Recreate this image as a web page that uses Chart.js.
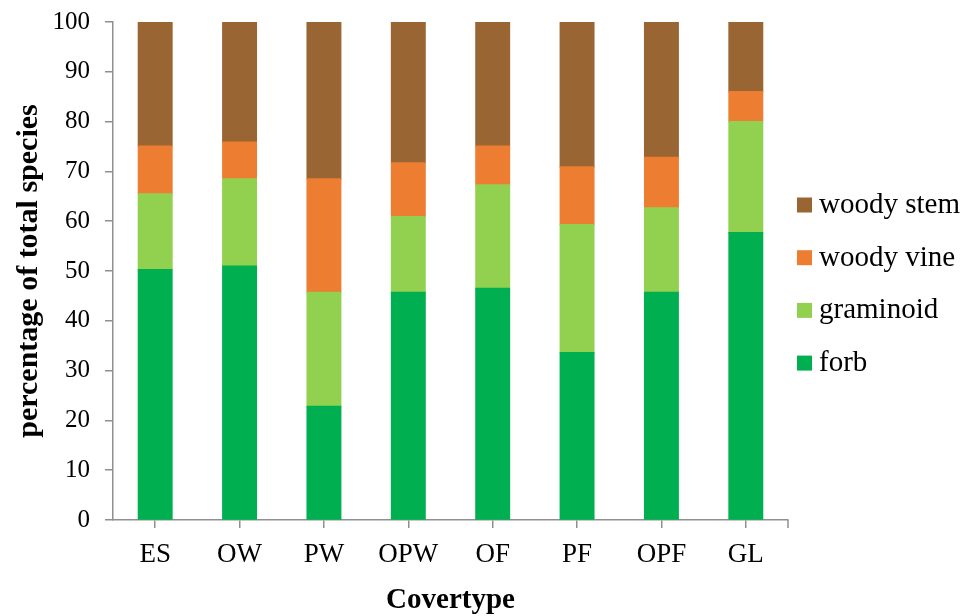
<!DOCTYPE html>
<html>
<head>
<meta charset="utf-8">
<script src="https://cdn.jsdelivr.net/npm/chart.js@4"></script>
<style>
html,body{margin:0;padding:0;background:#fff;}
#wrap{width:966px;height:616px;position:relative;}
</style>
</head>
<body>
<div id="wrap"><canvas id="c" width="966" height="616"></canvas></div>
<script>
const categories = ["ES", "OW", "PW", "OPW", "OF", "PF", "OPF", "GL"];
const forb       = [50.3, 51.0, 22.8, 45.7, 46.5, 33.6, 45.7, 57.7];
const graminoid  = [15.2, 17.5, 22.9, 15.2, 20.8, 25.7, 17.0, 22.3];
const woodyVine  = [ 9.6,  7.4, 22.8, 10.8,  7.8, 11.6, 10.1,  6.0];
const woodyStem  = [24.9, 24.1, 31.5, 28.3, 24.9, 29.1, 27.2, 14.0];
const seriesNames = ["forb", "graminoid", "woody vine", "woody stem"];
const yTicks = [0, 10, 20, 30, 40, 50, 60, 70, 80, 90, 100];

const colors = ["#00B050", "#92D050", "#ED7D31", "#996633"];
const axisColor = "#8f8f8f";
const serif = "'Liberation Serif', 'Times New Roman', serif";

const legendPlugin = {
  id: 'sideLegend',
  afterDraw(chart) {
    const ctx = chart.ctx;
    const ds = chart.data.datasets.slice().reverse();
    const x0 = 797, y0 = 205, gap = 52.7, box = 15;
    ctx.save();
    ctx.font = "29px " + serif;
    ctx.textBaseline = "alphabetic";
    ctx.textAlign = "left";
    ds.forEach((d, i) => {
      const cy = y0 + i * gap;
      ctx.fillStyle = d.backgroundColor;
      ctx.fillRect(x0, cy - box / 2, box, box);
      ctx.fillStyle = "#000";
      ctx.fillText(d.label, x0 + 22, cy + 8);
    });
    // end tick on x axis
    const a = chart.chartArea;
    ctx.strokeStyle = axisColor;
    ctx.lineWidth = 1.5;
    ctx.beginPath();
    ctx.moveTo(a.right, a.bottom);
    ctx.lineTo(a.right, a.bottom + 8);
    ctx.stroke();
    ctx.restore();
  }
};

const seriesData = [forb, graminoid, woodyVine, woodyStem];

new Chart(document.getElementById('c'), {
  type: 'bar',
  data: {
    labels: categories,
    datasets: seriesData.map((d, i) => ({
      label: seriesNames[i],
      data: d,
      backgroundColor: colors[i],
      borderWidth: 0,
      inflateAmount: 0.6,
      categoryPercentage: 1.0,
      barPercentage: 0.4
    }))
  },
  options: {
    responsive: false,
    animation: false,
    devicePixelRatio: 1,
    layout: { padding: { left: 0, right: 178, top: 22, bottom: 0 } },
    plugins: {
      legend: { display: false },
      tooltip: { enabled: false }
    },
    scales: {
      x: {
        stacked: true,
        offset: true,
        afterFit(s) { s.height = 96; s.paddingLeft = 0; s.paddingRight = 0; },
        grid: { drawOnChartArea: false, offset: false, tickLength: 8, color: axisColor, lineWidth: 1.5 },
        border: { color: axisColor, width: 1.5 },
        ticks: { color: "#000", font: { family: serif, size: 27 }, padding: 11, maxRotation: 0 },
        title: { display: true, text: "Covertype", color: "#000",
                 font: { family: serif, size: 29, weight: 'bold' }, padding: { top: 0, bottom: -2 } }
      },
      y: {
        stacked: true,
        min: 0, max: 100,
        afterFit(s) { s.width = 113; s.paddingTop = 0; s.paddingBottom = 0; },
        afterBuildTicks(s) { s.ticks = yTicks.map(v => ({ value: v })); },
        grid: { drawOnChartArea: false, tickLength: 8, color: axisColor, lineWidth: 1.5 },
        border: { color: axisColor, width: 1.5 },
        ticks: { color: "#000", font: { family: serif, size: 25 }, padding: 15 },
        title: { display: true, text: "percentage of total species", color: "#000",
                 font: { family: serif, size: 30, weight: 'bold' }, padding: { top: 11, bottom: 0 } }
      }
    }
  },
  plugins: [legendPlugin]
});
</script>
</body>
</html>
